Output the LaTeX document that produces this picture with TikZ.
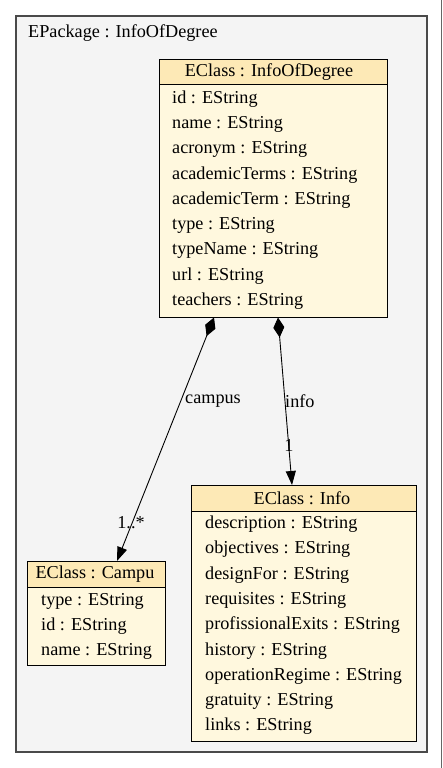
\documentclass[tikz,border=0pt]{standalone}
\usepackage{fontspec}
\setmainfont{Liberation Serif}
\usetikzlibrary{arrows.meta}
\definecolor{pkgfill}{HTML}{F4F4F4}
\definecolor{pkgline}{HTML}{4A4A4A}
\definecolor{headfill}{HTML}{FDE9B6}
\definecolor{bodyfill}{HTML}{FFF8DE}
\begin{document}
\begin{tikzpicture}[x=1pt,y=-1pt,
  every node/.style={font=\fontsize{18.2}{22}\selectfont, inner sep=0pt},
  pkgbox/.style={draw=pkgline, fill=pkgfill, line width=1.5pt},
  headbox/.style={draw=black, fill=headfill, line width=0.9pt},
  bodybox/.style={draw=black, fill=bodyfill, line width=0.9pt},
  attr/.style={anchor=west},
  conn/.style={line width=0.9pt, black},
  lbl/.style={}]
\useasboundingbox (0,0) rectangle (443,768);
\fill[white] (0,0) rectangle (443,768);
\draw[gray!80!black, line width=1.5pt] (441.5,0) -- (441.5,768);
% package
\draw[pkgbox] (16,16) rectangle (427,752);
\node[anchor=west] (pkg) at (28,33) {EPackage : InfoOfDegree};
% InfoOfDegree
\draw[bodybox] (159,84) rectangle (387,317);
\draw[headbox] (159,59) rectangle (387,84);
\node (hA) at (269,72) {EClass : InfoOfDegree};
\node[attr] (a1) at (172,99) {id : EString};
\node[attr] (a2) at (172,124) {name : EString};
\node[attr] (a3) at (172,149.5) {acronym : EString};
\node[attr] (a4) at (172,175) {academicTerms : EString};
\node[attr] (a5) at (172,200) {academicTerm : EString};
\node[attr] (a6) at (172,225.5) {type : EString};
\node[attr] (a7) at (172,250.5) {typeName : EString};
\node[attr] (a8) at (172,276) {url : EString};
\node[attr] (a9) at (172,301) {teachers : EString};
% Campu
\draw[bodybox] (27,587) rectangle (165,665);
\draw[headbox] (27,561) rectangle (165,587);
\node (hC) at (95,574) {EClass : Campu};
\node[attr] (c1) at (41,601) {type : EString};
\node[attr] (c2) at (41,626) {id : EString};
\node[attr] (c3) at (41,651) {name : EString};
% Info
\draw[bodybox] (191,511) rectangle (416,741);
\draw[headbox] (191,485) rectangle (416,511);
\node (hI) at (302,498) {EClass : Info};
\node[attr] (i1) at (205,524) {description : EString};
\node[attr] (i2) at (205,549.5) {objectives : EString};
\node[attr] (i3) at (205,575) {designFor : EString};
\node[attr] (i4) at (205,600) {requisites : EString};
\node[attr] (i5) at (205,625.5) {profissionalExits : EString};
\node[attr] (i6) at (205,651) {history : EString};
\node[attr] (i7) at (205,676) {operationRegime : EString};
\node[attr] (i8) at (205,701) {gratuity : EString};
\node[attr] (i9) at (205,726.5) {links : EString};
% connectors
\coordinate (s1) at (214,317.5);
\coordinate (t1) at (117,561);
\coordinate (s2) at (278,317.5);
\coordinate (t2) at (292,485);
\draw[conn, {Diamond[length=20pt,width=11pt]}-{Triangle[length=14pt,width=10pt]}] (s1) -- (t1);
\draw[conn, {Diamond[length=20pt,width=11pt]}-{Triangle[length=14pt,width=10pt]}] (s2) -- (t2);
\node[anchor=west] (l1) at (185,401) {campus};
\node[anchor=west] (l2) at (285,401) {info};
\node (m1) at (131,523) {1..*};
\node (m2) at (289,445) {1};
\end{tikzpicture}
\end{document}
